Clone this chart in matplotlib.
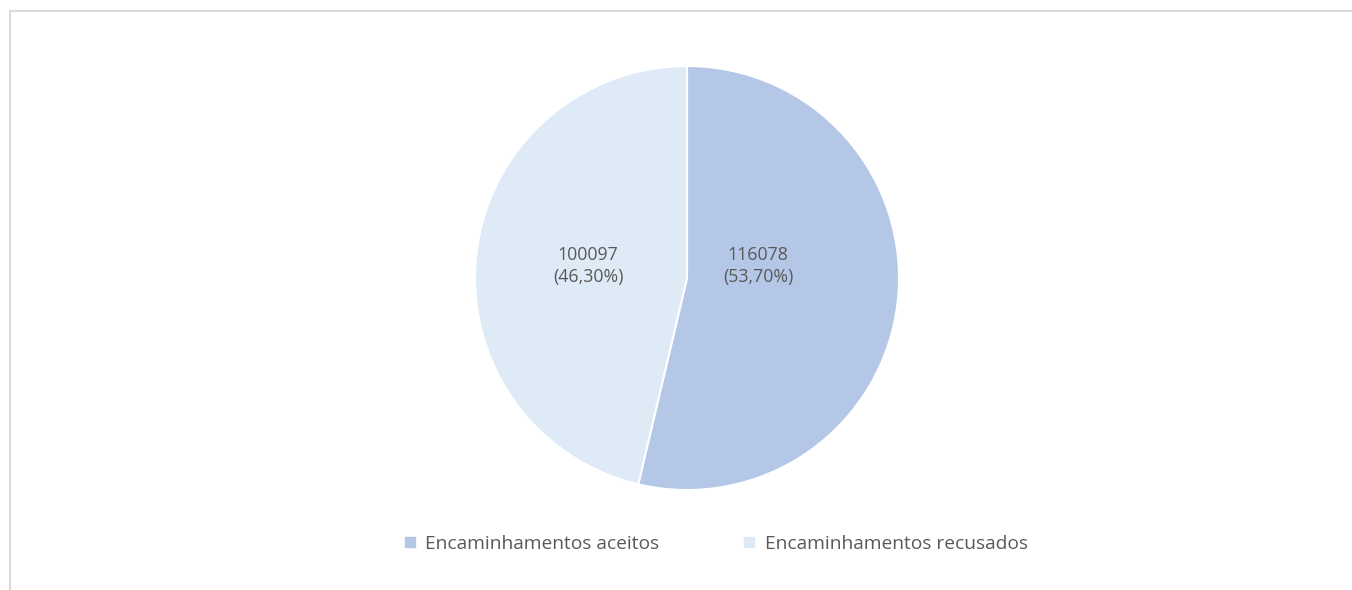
import matplotlib
matplotlib.use("Agg")
import matplotlib.pyplot as plt
from matplotlib.lines import Line2D

categories = ["Encaminhamentos aceitos", "Encaminhamentos recusados"]
values = [116078, 100097]
pct_labels = ["53,70%", "46,30%"]
colors = ["#B4C7E7", "#DEEBF7"]
text_color = "#595959"
font = "Open Sans"

W, H = 1352, 590
fig = plt.figure(figsize=(W / 100, H / 100), dpi=100)
fig.patch.set_facecolor("white")

cx, cy, r = 687, 278, 212
ax = fig.add_axes([(cx - r) / W, (H - cy - r) / H, 2 * r / W, 2 * r / H])
wedges, _ = ax.pie(values, colors=colors, startangle=90, counterclock=False,
                   radius=1.0, wedgeprops=dict(edgecolor="white", linewidth=1.5))
ax.set_xlim(-1, 1)
ax.set_ylim(-1, 1)
ax.set_aspect("equal")
ax.axis("off")

# data labels (pixel positions of label centers)
label_pos = [(758, 266), (588, 266)]
for (px, py), v, p in zip(label_pos, values, pct_labels):
    ax.text((px - cx) / r, (cy - py) / r, f"{v}\n({p})", ha="center", va="center",
            fontsize=12.8, color=text_color, family=font, linespacing=1.3)

# legend
handles = [Line2D([], [], marker="s", linestyle="none", markersize=6.5,
                  markerfacecolor=c, markeredgecolor=c) for c in colors]
fig.legend(handles, categories, loc="center", ncol=2,
           bbox_to_anchor=(716 / W, 1 - 544 / H), frameon=False,
           prop=dict(family=font, size=13.8), labelcolor=text_color,
           handlelength=0.6, handletextpad=0.5, columnspacing=4.4)

# outer chart frame
fig.add_artist(Line2D([10 / W, 10 / W], [0, 1 - 11 / H], transform=fig.transFigure,
                      color="#D9D9D9", linewidth=1.5))
fig.add_artist(Line2D([10 / W, 1], [1 - 11 / H, 1 - 11 / H], transform=fig.transFigure,
                      color="#D9D9D9", linewidth=1.5))

fig.savefig("out.png", dpi=100)
